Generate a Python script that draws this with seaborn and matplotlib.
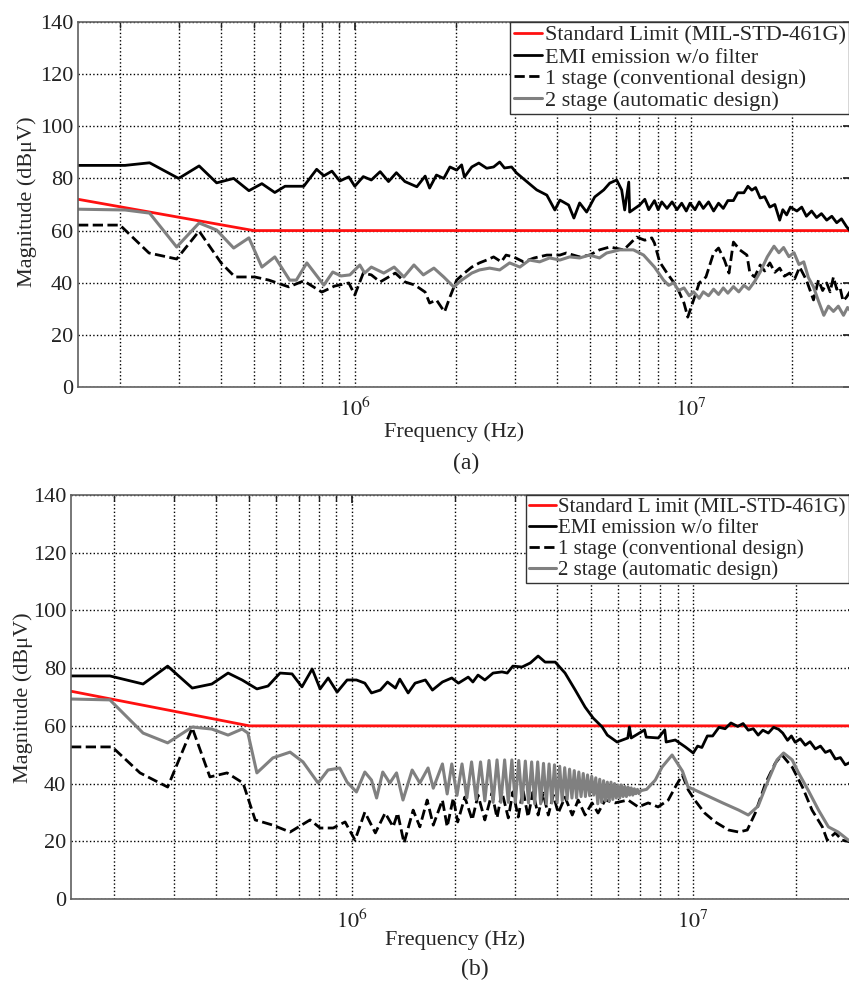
import numpy as np
import matplotlib
matplotlib.use("Agg")
import matplotlib.pyplot as plt
import matplotlib.ticker as mticker
import seaborn as sns

# ---- data (frequency in MHz, magnitude in dBuV) ----
limit_f = [0.15, 0.5, 30.0]
limit_v = [72, 60, 60]

# panel (a)
a_emi_f = [0.15, 0.207, 0.245, 0.299, 0.344, 0.388, 0.436, 0.484, 0.529, 0.578, 0.62, 0.705, 0.77, 0.809,
           0.855, 0.902, 0.96, 1.0, 1.06, 1.12, 1.19, 1.26, 1.33, 1.41, 1.53, 1.62, 1.67, 1.75, 1.84, 1.92,
           2.01, 2.08, 2.12, 2.23, 2.34, 2.47, 2.59, 2.70, 2.79, 2.93, 3.03, 3.25, 3.48, 3.73, 3.94, 4.08,
           4.33, 4.49, 4.67, 4.90, 5.18, 5.51, 5.74, 6.02, 6.23, 6.36, 6.54, 6.58, 7.05, 7.3, 7.5, 7.8,
           8.0, 8.2, 8.5, 8.8, 9.1, 9.4, 9.7, 9.95, 10.3, 10.6, 10.9, 11.3, 11.7, 12.1, 12.5, 12.9,
           13.4, 13.8, 14.4, 14.8, 15.2, 15.6, 16.1, 16.6, 17.2, 17.8, 18.4, 18.8, 19.3, 19.8, 20.7, 21.4,
           22.1, 22.9, 23.7, 24.5, 25.4, 26.3, 27.2, 28.1, 29.1, 30.0]
a_emi_v = [85, 85, 86, 80, 84.8, 78.3, 80, 75.3, 78, 74.6, 77, 77, 83.5, 81,
           82.8, 79, 80.6, 77, 80.7, 79.4, 82.6, 78.8, 82.2, 78.8, 76.8, 80.9, 76.3, 81.3, 80, 84.4,
           83.2, 85.2, 80.5, 84.4, 85.9, 83.9, 84.4, 86.3, 84, 84.4, 82.1, 78.8, 75.6, 73.6, 67.9, 71.7,
           69.8, 64.8, 70.6, 67.1, 72.9, 75.6, 78.2, 79.4, 75.6, 67.9, 78.6, 67.1, 69.8, 72, 68, 71.5,
           68, 71, 68.5, 71, 68, 70.5, 67.5, 70.5, 68, 71, 68.5, 71, 67.5, 70.5, 68.5, 71.5,
           71.5, 74.5, 74.5, 77, 75.5, 76.5, 72.5, 73, 69, 70, 64, 68, 66, 69, 67.5, 69,
           65.5, 67.5, 65, 66.5, 64, 65.5, 63, 64.5, 61.5, 59.5]

a_one_f = [0.15, 0.20, 0.244, 0.295, 0.344, 0.40, 0.44, 0.504, 0.555, 0.636, 0.705, 0.798, 0.87, 0.96,
           1.0, 1.06, 1.12, 1.19, 1.32, 1.41, 1.51, 1.62, 1.67, 1.75, 1.85, 1.92, 2.01, 2.12, 2.23, 2.35,
           2.47, 2.59, 2.73, 2.82, 2.97, 3.18, 3.42, 3.73, 4.08, 4.26, 4.67, 5.0, 5.35, 5.74, 6.32, 6.9,
           7.3, 7.66, 7.8, 8.08, 8.5, 9.1, 9.55, 9.8, 10.2, 10.6, 11.1, 11.7, 12.1, 12.6, 13.0, 13.4,
           14.0, 14.7, 15.0, 15.5, 16.1, 16.6, 17.2, 17.8, 18.4, 19.0, 19.7, 20.4, 21.1, 22.1, 23.2, 24.0,
           24.7, 25.4, 26.0, 26.6, 27.2, 27.8, 28.4, 29.1, 30.0]
a_one_v = [62.1, 62.1, 51.4, 49.1, 59.8, 47.6, 42.2, 42.2, 41, 38.4, 40.7, 36.4, 38.7, 39.9,
           35.3, 43.7, 43, 40.3, 43.7, 40.3, 39.1, 36.4, 32.2, 33.4, 28.8, 34.5, 41, 43.7, 46, 47.6,
           48.7, 49.9, 48, 50.6, 49.9, 48, 49.5, 50.6, 50.6, 51.4, 49.9, 50.6, 52.6, 53.7, 52.6, 57.5,
           56.3, 57.2, 55.2, 48, 43.7, 38.4, 32.2, 26.8, 33.4, 39.9, 42.2, 51.4, 53.3, 48.7, 43.7, 55.6,
           52.6, 50.6, 43.7, 42.2, 46.8, 44.5, 47.6, 44, 45.6, 42.5, 43.7, 41.5, 46, 41, 33.4, 41,
           37, 39.9, 36.5, 42.2, 37.5, 38.4, 33, 34.5, 37.2]

a_two_f = [0.15, 0.207, 0.245, 0.295, 0.344, 0.388, 0.436, 0.484, 0.529, 0.578, 0.64, 0.67, 0.72, 0.809,
           0.86, 0.91, 0.967, 1.035, 1.07, 1.12, 1.22, 1.31, 1.40, 1.50, 1.60, 1.72, 1.84, 1.97, 2.08,
           2.23, 2.35, 2.52, 2.70, 2.89, 3.1, 3.31, 3.55, 3.8, 4.08, 4.36, 4.67, 5.0, 5.35, 5.62, 6.15,
           6.75, 7.24, 7.8, 8.3, 8.6, 8.9, 9.2, 9.55, 9.9, 10.2, 10.6, 10.9, 11.3, 11.7, 12.1, 12.5,
           12.9, 13.4, 13.9, 14.4, 14.9, 15.5, 16.1, 16.9, 17.3, 17.7, 18.3, 18.9, 19.6, 20.3, 21.0, 21.7,
           22.4, 23.2, 24.0, 24.9, 25.7, 26.6, 27.5, 28.5, 29.3, 30.0]
a_two_v = [68.2, 67.9, 66.7, 53.7, 62.9, 60.2, 53.3, 57.2, 46, 49.9, 41, 41, 47.6, 39.1,
           44.1, 42.6, 43, 46.8, 43.7, 46, 43.7, 46, 42.2, 46.8, 43, 45.6, 42.2, 38.4, 41,
           43.7, 44.9, 45.6, 44.9, 47.6, 46, 48.7, 48, 49.5, 48.7, 49.9, 49.5, 50.6, 49.5, 51.4, 52.6,
           52.6, 50.6, 46, 41, 39, 40, 37, 38, 35, 36.5, 34, 36.5, 35, 37.5, 35.5, 38,
           36, 38.5, 36.5, 39, 37.5, 40.5, 44.1, 49.9, 52, 54, 51.5, 53.5, 50, 51.5, 47, 48,
           42, 38.4, 33, 27.5, 31, 29, 31, 27.5, 30.5, 29]

# panel (b)
b_emi_f = [0.15, 0.195, 0.244, 0.288, 0.34, 0.388, 0.433, 0.476, 0.526, 0.567, 0.615, 0.667, 0.713, 0.764,
           0.806, 0.851, 0.904, 0.967, 1.03, 1.09, 1.14, 1.21, 1.27, 1.34, 1.38, 1.46, 1.53, 1.64, 1.72,
           1.84, 1.96, 2.05, 2.19, 2.26, 2.34, 2.45, 2.59, 2.75, 2.85, 2.96, 3.15, 3.33, 3.51, 3.68, 3.94,
           4.21, 4.51, 4.82, 5.09, 5.41, 5.6, 5.98, 6.43, 6.5, 6.58, 7.2, 7.28, 7.9, 8.25, 8.33, 8.86,
           9.48, 10.0, 10.3, 10.6, 11.0, 11.4, 11.9, 12.4, 12.9, 13.5, 14.0, 14.5, 15.0, 15.5, 16.0, 16.6,
           17.2, 17.8, 18.3, 18.9, 19.4, 19.9, 20.6, 21.3, 22.0, 22.8, 23.6, 24.4, 25.2, 26.1, 27.0, 27.9,
           29.0, 30.0]
b_emi_v = [77.3, 77.3, 74.5, 80.7, 73.1, 74.5, 78.3, 75.9, 72.8, 73.8, 78.3, 78, 73.5, 79.7,
           72.8, 76.6, 71.7, 75.9, 75.9, 74.8, 71.4, 72.4, 75.2, 73.1, 76.2, 71.4, 74.8, 75.9, 72.4,
           75.2, 76.6, 74.8, 76.9, 75.2, 77.6, 75.9, 78.3, 78.7, 78.3, 80.7, 80.4, 81.8, 84.2, 82.1, 82.1,
           78.3, 72.4, 66.5, 62.7, 59.6, 56.8, 54.4, 55.8, 59.6, 55.8, 58.6, 56.1, 55.8, 58.6, 54.4, 55.1,
           52.7, 50.6, 53, 52.5, 56.5, 56.5, 59.5, 59, 61, 59.8, 60.8, 58.5, 59, 56.8, 58.5, 57.5,
           59.5, 58.8, 57.5, 55, 56.5, 54.3, 55.5, 53.3, 54.5, 52, 53, 50.8, 51.5, 48.5, 49, 46.5,
           47.5, 46]

b_one_f = [0.15, 0.198, 0.239, 0.288, 0.34, 0.383, 0.43, 0.479, 0.52, 0.586, 0.658, 0.753, 0.806, 0.88,
           0.954, 1.02, 1.09, 1.17, 1.25, 1.32, 1.36, 1.42, 1.51, 1.58, 1.66, 1.73, 1.84, 1.90, 1.98,
           2.04, 2.14, 2.25, 2.34, 2.45, 2.57, 2.66, 2.75, 2.87, 2.96, 3.07, 3.17, 3.28, 3.39, 3.51, 3.63,
           3.76, 3.89, 4.02, 4.21, 4.42, 4.6, 4.82, 5.05, 5.26, 5.52, 5.9, 6.44, 6.9, 7.38, 7.89, 8.45,
           8.86, 9.29, 9.67, 10.1, 10.8, 11.6, 12.7, 13.6, 14.4, 15.2, 16.3, 17.4, 18.2, 19.5, 20.9,
           22.3, 23.9, 24.7, 26.1, 27.3, 30.0]
b_one_v = [52.7, 52.7, 43.7, 38.8, 59.3, 42.3, 43.7, 40.2, 27.4, 25.6, 23.2, 27.4, 24.6, 24.6,
           26.7, 20.4, 30.1, 22.9, 29.8, 25, 29.8, 19.4, 30.8, 25, 34.3, 25.6, 34.3, 25, 35,
           26.7, 35.3, 27.4, 36, 27.4, 36.7, 28.1, 37.1, 28.1, 37.1, 28.4, 37.8, 28.4, 37.1, 29.1, 36.7,
           29.1, 36, 29.8, 35.3, 29.1, 34.3, 29.1, 33.3, 29.8, 34.3, 33.3, 34.3, 31.9, 33.3, 31.9, 34.3,
           38.8, 43, 37.8, 34.3, 29.8, 26.7, 23.9, 23.2, 23.9, 29.8, 40.2, 47.1, 49.9, 45.7, 38.8,
           30.8, 25, 20.4, 22.9, 20.4, 19.4]

b_two_f = [0.15, 0.195, 0.244, 0.288, 0.34, 0.388, 0.433, 0.476, 0.495, 0.526, 0.586, 0.658, 0.718, 0.795,
           0.85, 0.92, 0.967, 1.03, 1.09, 1.14, 1.18, 1.23, 1.29, 1.35, 1.41, 1.50, 1.58, 1.67, 1.73,
           1.84, 1.90, 1.96, 2.03, 2.10, 2.17, 2.24, 2.31, 2.38, 2.45, 2.52, 2.59, 2.66, 2.73, 2.80, 2.87,
           2.94, 3.01, 3.08, 3.15, 3.22, 3.29, 3.36, 3.43, 3.50, 3.57, 3.64, 3.71, 3.78, 3.85, 3.92, 3.99,
           4.06, 4.13, 4.20, 4.27, 4.34, 4.41, 4.48, 4.55, 4.62, 4.69, 4.76, 4.83, 4.90, 4.97, 5.04, 5.11,
           5.18, 5.25, 5.32, 5.39, 5.46, 5.53, 5.60, 5.67, 5.74, 5.81, 5.88, 5.95, 6.02, 6.09, 6.16, 6.23,
           6.30, 6.37, 6.44, 6.51, 6.58, 6.65, 6.72, 6.79, 6.86, 6.93, 7.0, 7.3, 7.74, 8.1, 8.67, 9.3,
           9.66, 10.1, 10.8, 12.2, 13.6, 14.5, 15.5, 16.6, 17.6, 18.4, 19.5, 20.3, 21.7, 23.3, 24.9,
           26.6, 28.5, 30.0]
b_two_v = [69.3, 69, 57.5, 54.1, 59.6, 58.9, 56.8, 58.9, 57.5, 43.7, 48.9, 50.9, 47.5, 40.2,
           44.7, 45.4, 40.5, 37.1, 44, 41.2, 35, 44, 40.2, 43.7, 34.3, 44.7, 40.2, 45.4, 38.4,
           46.8, 36.4, 46.8, 35.9, 46.8, 35, 47.5, 34.5, 47.5, 34, 48, 33.5, 48.2, 33.5, 48.2, 33.5,
           48.2, 33.5, 48, 33.3, 47.8, 33.3, 47.5, 33, 47.5, 33, 47, 33, 46.8, 33.3, 46.5, 33.5,
           46, 34, 45.5, 34.5, 45, 35, 44.5, 35, 44, 35.5, 43.5, 35.5, 43, 35.8, 42.5, 36,
           42, 33, 41.5, 33.5, 41, 34, 40.5, 34, 40.5, 34.5, 40, 35, 39.5, 35, 39.5, 35.5,
           39, 35.5, 38.8, 36, 38.5, 36, 38.2, 36.5, 38, 36.5, 37.5, 38, 41.2, 45.7, 49.9, 44.3,
           38.8, 37.8, 36.2, 33.3, 30.8, 29.1, 32.2, 41.2, 48.2, 50.6, 48.2, 44, 37.8, 30.8, 25,
           23.2, 20.4, 19.5]

labels = ["Standard Limit (MIL-STD-461G)", "EMI emission w/o filter",
          "1 stage (conventional design)", "2 stage (automatic design)"]

sns.set_theme(style="white")
plt.rcParams['font.family'] = ['Liberation Serif', 'DejaVu Serif']
plt.rcParams['mathtext.fontset'] = 'stix'

fig = plt.figure(figsize=(8.49, 9.88), dpi=100)
ax_a = fig.add_axes([78 / 849, 1 - 387 / 988, 773 / 849, 365 / 988])
ax_b = fig.add_axes([71 / 849, 1 - 899 / 988, 785 / 849, 404 / 988])


def draw_panel(ax, emi_f, emi_v, one_f, one_v, two_f, two_v, legend_labels, leg_size, leg_top):
    mhz = 1e6
    sns.lineplot(x=np.array(limit_f) * mhz, y=limit_v, ax=ax, color='#ff1010', lw=2.0,
                 estimator=None, sort=False, label=legend_labels[0])
    sns.lineplot(x=np.array(emi_f) * mhz, y=emi_v, ax=ax, color='black', lw=2.0,
                 estimator=None, sort=False, label=legend_labels[1])
    sns.lineplot(x=np.array(one_f) * mhz, y=one_v, ax=ax, color='black', lw=2.0, linestyle='--',
                 estimator=None, sort=False, label=legend_labels[2])
    sns.lineplot(x=np.array(two_f) * mhz, y=two_v, ax=ax, color='#808080', lw=2.2,
                 estimator=None, sort=False, label=legend_labels[3])

    ax.set_xscale('log')
    ax.set_xlim(1.5e5, 3e7)
    ax.set_ylim(0, 140)
    ax.set_yticks(range(0, 141, 20))
    ax.xaxis.set_major_locator(mticker.FixedLocator([1e6, 1e7]))
    ax.xaxis.set_major_formatter(mticker.FixedFormatter([r'$10^6$', r'$10^7$']))
    ax.xaxis.set_minor_locator(mticker.LogLocator(base=10, subs=np.arange(2, 10), numticks=20))
    ax.xaxis.set_minor_formatter(mticker.NullFormatter())
    ax.tick_params(axis='both', which='both', direction='in', top=True, right=True,
                   labelsize=16, colors='#222222')
    ax.tick_params(axis='x', which='major', pad=8)
    ax.grid(True, which='both', axis='x', linestyle=':', color='black', lw=1.0)
    ax.grid(True, which='major', axis='y', linestyle=':', color='black', lw=1.0)
    for sp in ax.spines.values():
        sp.set_color('#606060')
        sp.set_linewidth(1.2)
    ax.set_xlabel('')
    ax.set_ylabel('')
    leg = ax.legend(loc='upper right', fontsize=leg_size, frameon=True, fancybox=False,
                    bbox_to_anchor=(1.0, leg_top), bbox_transform=fig.transFigure,
                    borderaxespad=0, handlelength=1.3, handletextpad=0.1,
                    labelspacing=0.05, borderpad=0.15)
    leg.get_frame().set_edgecolor('#333333')
    leg.get_frame().set_linewidth(1.0)
    leg.get_frame().set_alpha(1)


draw_panel(ax_a, a_emi_f, a_emi_v, a_one_f, a_one_v, a_two_f, a_two_v, labels,
           16, 1 - 22 / 988)
draw_panel(ax_b, b_emi_f, b_emi_v, b_one_f, b_one_v, b_two_f, b_two_v,
           ["Standard L imit (MIL-STD-461G)"] + labels[1:], 15, 1 - 495 / 988)

fig.text(454 / 849, 1 - 432 / 988, 'Frequency (Hz)', ha='center', va='center', fontsize=16)
fig.text(466 / 849, 1 - 463 / 988, '(a)', ha='center', va='center', fontsize=17)
fig.text(27 / 849, 1 - 202 / 988, 'Magnitude (dB\u03bcV)', ha='center', va='center', rotation=90, fontsize=16)

fig.text(455 / 849, 1 - 940 / 988, 'Frequency (Hz)', ha='center', va='center', fontsize=16)
fig.text(475 / 849, 1 - 969 / 988, '(b)', ha='center', va='center', fontsize=17)
fig.text(23 / 849, 1 - 698 / 988, 'Magnitude (dB\u03bcV)', ha='center', va='center', rotation=90, fontsize=16)

fig.savefig('out.png', dpi=100)
